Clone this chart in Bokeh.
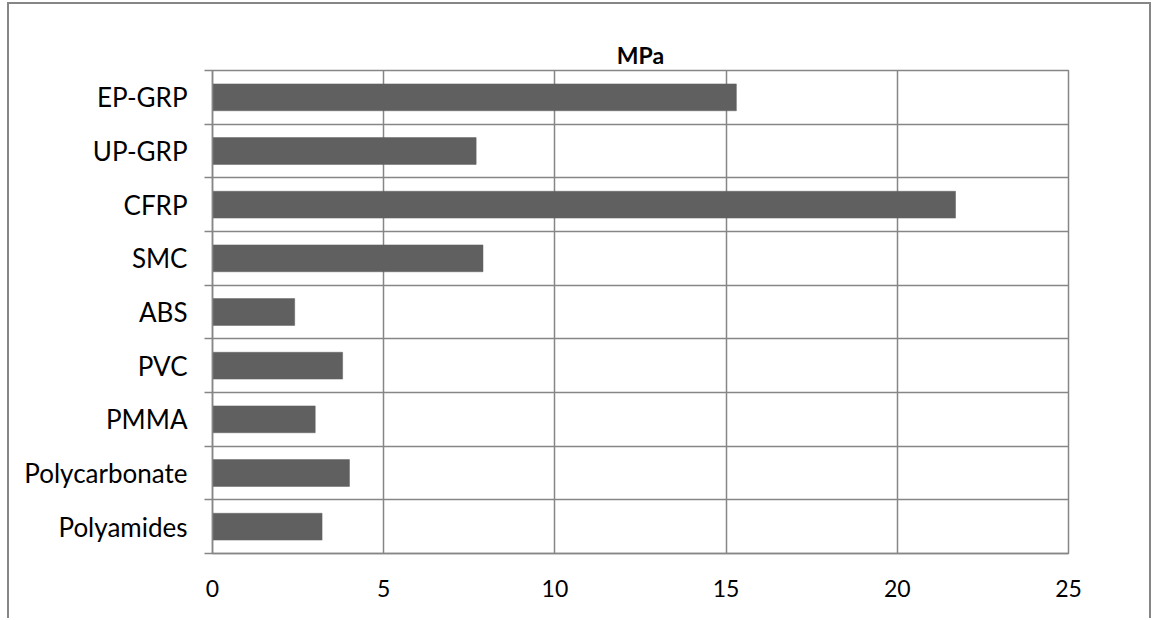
from bokeh.plotting import figure
from bokeh.models import Range1d, FixedTicker, ColumnDataSource
from bokeh.embed import file_html
from bokeh.resources import INLINE

# Data (top to bottom as in the chart)
materials = ["EP-GRP", "UP-GRP", "CFRP", "SMC", "ABS", "PVC", "PMMA", "Polycarbonate", "Polyamides"]
mpa = [15.3, 7.7, 21.7, 7.9, 2.4, 3.8, 3.0, 4.0, 3.2]
x_ticks = [0, 5, 10, 15, 20, 25]
title_text = "MPa"

n = len(materials)
positions = [n - 1 - i for i in range(n)]
centers = list(range(n))
boundaries = [i - 0.5 for i in range(n + 1)]

src = ColumnDataSource(dict(material=materials, mpa=mpa, pos=positions))

GRID = "#868686"
FONT = "Lato"

p = figure(width=1144, height=616, output_backend="svg", toolbar_location=None,
           x_range=Range1d(0, 25), y_range=Range1d(-0.5, n - 0.5),
           min_border_left=203, min_border_right=85, min_border_top=66, min_border_bottom=67,
           title=title_text)

# outer chart-area border (cut off at the bottom of the picture)
p.styles = {"margin-left": "7px", "margin-top": "2px",
            "border-left": "2px solid #868686",
            "border-top": "2px solid #868686",
            "border-right": "2px solid #868686"}

p.hbar(y="pos", left=0, right="mpa", height=0.5, source=src,
       fill_color="#606060", line_color="#606060", line_width=0.5)

# title
p.title.align = "center"
p.title.text_font = FONT
p.title.text_font_size = "23px"
p.title.text_font_style = "bold"
p.title.text_color = "black"
p.title.standoff = 4

# y axis: labels at centers, tick marks (minor) at category boundaries
yt = FixedTicker(ticks=centers, minor_ticks=boundaries)
p.yaxis.ticker = yt
p.yaxis.major_label_overrides = {pos: name for pos, name in zip(positions, materials)}
p.yaxis.major_tick_line_color = None
p.yaxis.major_tick_out = 0
p.yaxis.major_tick_in = 0
p.yaxis.minor_tick_in = 0
p.yaxis.minor_tick_out = 8
p.yaxis.minor_tick_line_color = GRID
p.yaxis.minor_tick_line_width = 1.5
p.yaxis.axis_line_color = GRID
p.yaxis.axis_line_width = 1.5
p.yaxis.major_label_standoff = 17
p.yaxis.major_label_text_font = FONT
p.yaxis.major_label_text_font_size = "26px"
p.yaxis.major_label_text_color = "black"

p.ygrid.ticker = yt
p.ygrid.grid_line_color = None
p.ygrid.minor_grid_line_color = GRID
p.ygrid.minor_grid_line_width = 1.5

# x axis
xt = FixedTicker(ticks=x_ticks, minor_ticks=[])
p.xaxis.ticker = xt
p.xaxis.major_tick_line_color = None
p.xaxis.minor_tick_line_color = None
p.xaxis.major_tick_out = 0
p.xaxis.major_tick_in = 0
p.xaxis.axis_line_color = GRID
p.xaxis.axis_line_width = 1.5
p.xaxis.major_label_standoff = 26
p.xaxis.major_label_text_font = FONT
p.xaxis.major_label_text_font_size = "23px"
p.xaxis.major_label_text_color = "black"

p.xgrid.ticker = xt
p.xgrid.grid_line_color = GRID
p.xgrid.grid_line_width = 1.5

p.outline_line_color = GRID
p.outline_line_width = 1.5

open("out.html", "w").write(file_html(p, INLINE))
